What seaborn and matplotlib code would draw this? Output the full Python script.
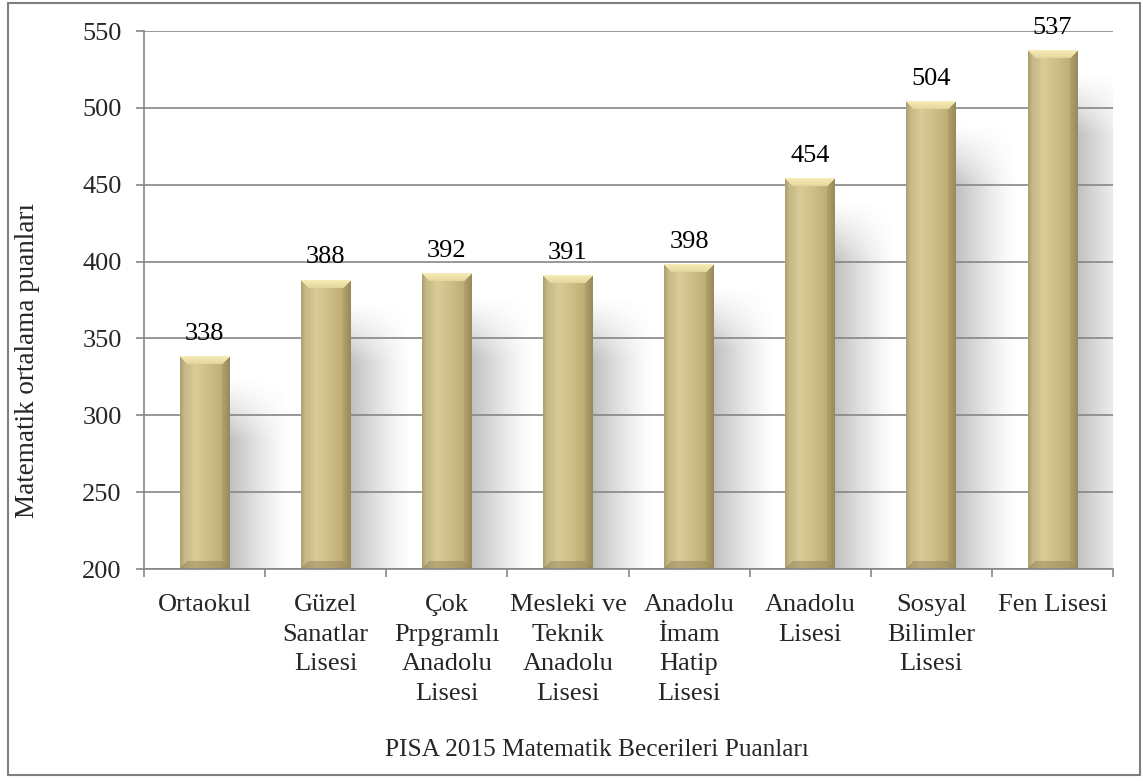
import numpy as np
import pandas as pd
import matplotlib
matplotlib.use("Agg")
import matplotlib.pyplot as plt
import seaborn as sns
from matplotlib.patches import Rectangle

# Data
categories = [
    "Ortaokul",
    "Güzel\nSanatlar\nLisesi",
    "Çok\nPrpgramlı\nAnadolu\nLisesi",
    "Mesleki ve\nTeknik\nAnadolu\nLisesi",
    "Anadolu\nİmam\nHatip\nLisesi",
    "Anadolu\nLisesi",
    "Sosyal\nBilimler\nLisesi",
    "Fen Lisesi",
]
scores = [338, 388, 392, 391, 398, 454, 504, 537]
y_ticks = [200, 250, 300, 350, 400, 450, 500, 550]
y_label = "Matematik ortalama puanları"
x_title = "PISA 2015 Matematik Becerileri Puanları"

sns.set_theme(style="white")
plt.rcParams["font.family"] = ["Liberation Serif", "DejaVu Serif"]
FS = 19

W, H = 1143, 781
fig = plt.figure(figsize=(W / 100, H / 100), dpi=100)
ax = fig.add_axes([144 / W, 1 - 569 / H, (1113 - 144) / W, (569 - 31) / H])

df = pd.DataFrame({"cat": categories, "score": scores})
sns.barplot(data=df, x="cat", y="score", color="#c9b680", width=0.41,
            ax=ax, zorder=3, saturation=1)

ymin, ymax = 200, 550
ax.set_ylim(ymin, ymax)
ax.set_xlim(-0.5, len(categories) - 0.5)

grid_c = "#868686"
for yv in y_ticks:
    ax.axhline(yv, color=grid_c, lw=1.2, zorder=1)

# axis px scales
ax_px_w = 1113 - 144
ax_px_h = 569 - 31
px_per_x = ax_px_w / len(categories)
px_per_y = ax_px_h / (ymax - ymin)

# Horizontal colour profile of the bar face
prof_t = np.array([0.0, 0.08, 0.3, 0.55, 0.85, 1.0])
prof_c = np.array([
    [160, 147, 102],
    [196, 182, 132],
    [218, 204, 152],
    [207, 191, 136],
    [190, 173, 116],
    [155, 140, 92],
]) / 255.0


def bar_image(wp, hp, bev=8):
    t = np.linspace(0, 1, wp)
    base = np.stack([np.interp(t, prof_t, prof_c[:, k]) for k in range(3)], -1)
    img = np.repeat(base[None, :, :], hp, axis=0)
    ii, jj = np.mgrid[0:hp, 0:wp]
    dt, db = ii, hp - 1 - ii
    dl, dr = jj, wp - 1 - jj
    dmin = np.minimum(np.minimum(dt, db), np.minimum(dl, dr))
    inb = dmin < bev
    top = inb & (dt == dmin)
    bot = inb & (db == dmin) & ~top
    left = inb & (dl == dmin) & ~top & ~bot
    right = inb & (dr == dmin) & ~top & ~bot & ~left
    frac = (dmin / bev)[..., None]
    hi_top = np.array([246, 236, 182]) / 255.0
    lo_top = np.array([226, 211, 154]) / 255.0
    topc = hi_top * (1 - frac) + lo_top * frac
    botc = np.array([140, 126, 82]) / 255.0
    lc = np.array([205, 191, 140]) / 255.0
    rc = np.array([150, 135, 88]) / 255.0
    out = img.copy()
    out[top] = topc[top]
    out[bot] = img[bot] * 0.55 + botc * 0.45
    out[left] = img[left] * 0.7 + lc * 0.3
    out[right] = img[right] * 0.7 + rc * 0.3
    return out


for p in ax.patches:
    x0 = p.get_x()
    bw = p.get_width()
    h = p.get_height()
    x1 = x0 + bw
    p.set_alpha(0)
    wp = max(int(round(bw * px_per_x)), 2)
    hp = max(int(round((h - ymin) * px_per_y)), 2)
    ax.imshow(bar_image(wp, hp), extent=(x0, x1, ymin, h), aspect="auto",
              zorder=3, interpolation="bilinear")

    # soft shadow behind each bar
    sx0, sx1 = x0 + bw * 0.5, x1 + 0.5
    stop = h - 14
    nx, ny = 120, 200
    xs = np.linspace(sx0, sx1, nx)
    ys = np.linspace(stop, ymin, ny)
    hx = np.where(xs <= x1, 1.0, np.clip(1 - (xs - x1) / (sx1 - x1), 0, 1) ** 1.3)
    vy = np.clip((stop - ys) / 40.0, 0, 1) ** 1.2
    alpha = 0.45 * vy[:, None] * hx[None, :]
    sh = np.zeros((ny, nx, 4))
    sh[..., :3] = 0.45
    sh[..., 3] = alpha
    ax.imshow(sh, extent=(sx0, sx1, ymin, stop), aspect="auto", zorder=0.5,
              interpolation="bilinear")
    ax.annotate(f"{int(round(h))}", (p.get_x() + bw / 2, h),
                xytext=(0, 12), textcoords="offset points",
                ha="center", va="baseline", fontsize=FS, color="black")

ax.set_ylim(ymin, ymax)
ax.set_xlim(-0.5, len(categories) - 0.5)

# axes styling
for s in ["top", "right"]:
    ax.spines[s].set_visible(False)
for s in ["left", "bottom"]:
    ax.spines[s].set_color(grid_c)
    ax.spines[s].set_linewidth(1.2)
    ax.spines[s].set_zorder(4)

ax.set_yticks(y_ticks)
ax.set_yticklabels([str(v) for v in y_ticks], fontsize=FS)
ax.tick_params(axis="y", direction="out", length=6, width=1.2, color=grid_c,
               pad=10, left=True)

bounds = np.arange(-0.5, len(categories), 1.0)
ax.set_xticks(bounds)
ax.set_xticklabels([""] * len(bounds))
ax.tick_params(axis="x", which="major", direction="out", length=6, width=1.2,
               color=grid_c, bottom=True)
ax.set_xticks(np.arange(len(categories)), categories, minor=True)
ax.tick_params(axis="x", which="minor", length=0, pad=18, labelsize=FS)
for lbl in ax.get_xticklabels(minor=True):
    lbl.set_horizontalalignment("center")
    lbl.set_verticalalignment("top")
    lbl.set_multialignment("center")
    lbl.set_linespacing(1.45)

ax.set_xlabel("")
ax.set_ylabel("")
ax.grid(False)

fig.text(28 / W, 1 - 360 / H, y_label, rotation=90, ha="center", va="center",
         fontsize=19.5)
fig.text(597 / W, 1 - 750 / H, x_title, ha="center", va="center", fontsize=18.3)

# chart frame
fig.patches.append(Rectangle((8 / W, 1 - 775 / H), (1140 - 8) / W, (775 - 3) / H,
                             transform=fig.transFigure, fill=False,
                             edgecolor="#7f7f7f", lw=1.5))

fig.savefig("out.png", dpi=100)
